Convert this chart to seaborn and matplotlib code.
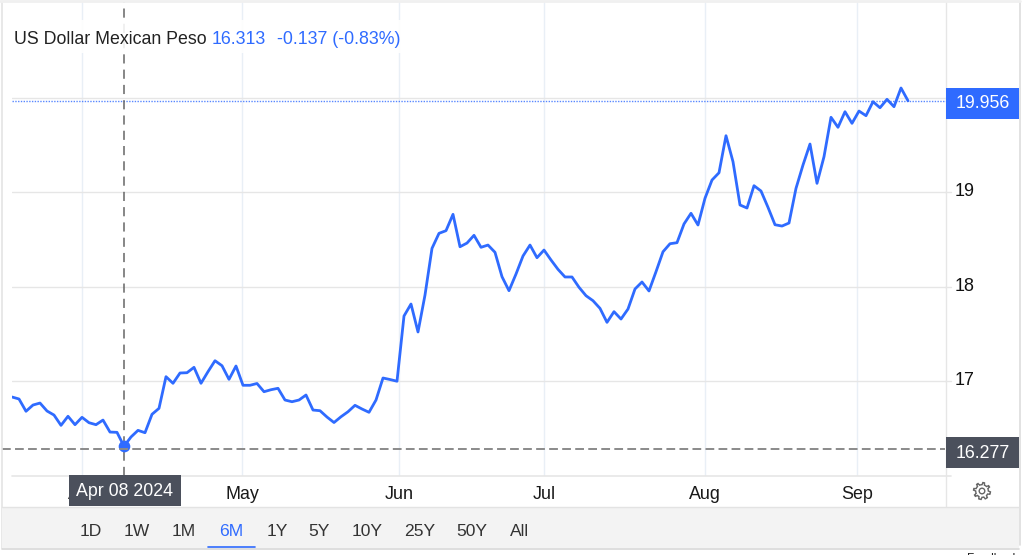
import numpy as np
import pandas as pd
import seaborn as sns
import matplotlib.pyplot as plt
from matplotlib.patches import Rectangle, Polygon, Circle
from matplotlib.transforms import ScaledTranslation

rate = [16.834, 16.813, 16.683, 16.749, 16.770, 16.686, 16.643, 16.534, 16.630, 16.541,
        16.619, 16.562, 16.541, 16.590, 16.463, 16.460, 16.313, 16.411, 16.481, 16.456,
        16.651, 16.714, 17.049, 16.979, 17.088, 17.091, 17.148, 16.979, 17.102, 17.218,
        17.165, 17.021, 17.162, 16.958, 16.958, 16.977, 16.890, 16.911, 16.926, 16.802,
        16.784, 16.802, 16.855, 16.696, 16.689, 16.622, 16.564, 16.625, 16.678, 16.746,
        16.707, 16.672, 16.802, 17.035, 17.019, 17.001, 17.691, 17.818, 17.522, 17.913,
        18.407, 18.566, 18.594, 18.767, 18.424, 18.463, 18.545, 18.418, 18.442, 18.365,
        18.107, 17.959, 18.135, 18.326, 18.442, 18.308, 18.389, 18.284, 18.185, 18.104,
        18.104, 17.995, 17.906, 17.853, 17.772, 17.624, 17.737, 17.659, 17.765, 17.977,
        18.051, 17.956, 18.160, 18.371, 18.456, 18.467, 18.665, 18.778, 18.654, 18.937,
        19.130, 19.207, 19.599, 19.324, 18.866, 18.834, 19.070, 19.014, 18.841, 18.657,
        18.643, 18.675, 19.042, 19.289, 19.511, 19.095, 19.377, 19.794, 19.688, 19.853,
        19.730, 19.860, 19.811, 19.959, 19.895, 19.984, 19.906, 20.104, 19.969]
month_labels = ['Apr', 'May', 'Jun', 'Jul', 'Aug', 'Sep']
month_pos = [10, 32.86, 55.29, 76, 99, 120.71]
y_ticks = [17, 18, 19, 20]
y_labels = ['17', '18', '19', '']
ranges = ['1D', '1W', '1M', '6M', '1Y', '5Y', '10Y', '25Y', '50Y', 'All']
range_x = [91, 137, 184, 231, 277, 319, 367, 420, 472, 520]
hover_idx = 16
hover_price = 16.277

BLUE = '#2f6bff'
DARK = '#4b505c'

sns.set_theme(style='white')
plt.rcParams['font.family'] = ['Liberation Sans', 'DejaVu Sans']

df = pd.DataFrame({'idx': np.arange(len(rate)), 'rate': rate})

W, H = 1023, 555
fig = plt.figure(figsize=(W / 100, H / 100), dpi=100, facecolor='white')

# main axes, placed by pixel box (12..945 wide, 2..476 high)
ax = fig.add_axes([12 / W, 1 - 476 / H, (945.5 - 12) / W, (476 - 2) / H])
sns.lineplot(data=df, x='idx', y='rate', ax=ax, color=BLUE, lw=2.0, zorder=4, errorbar=None)
ax.set_xlim(0, (945.5 - 12) / 7)
ax.set_ylim(15.998, 21.014)
ax.set_xlabel('')
ax.set_ylabel('')
for s in ax.spines.values():
    s.set_visible(False)
ax.set_xticks(month_pos)
ax.set_xticklabels(month_labels, fontsize=12.9, color='#1a1a1a')
ax.tick_params(axis='x', length=0, pad=7.5)
ax.yaxis.tick_right()
ax.set_yticks(y_ticks)
ax.set_yticklabels(y_labels, fontsize=12.9, color='#111111')
ax.tick_params(axis='y', length=0, pad=6.5)
for lab in ax.get_yticklabels():
    lab.set_transform(lab.get_transform() + ScaledTranslation(0, 2 / 72, fig.dpi_scale_trans))
ax.grid(axis='y', color='#e6e6e6', lw=1)
ax.grid(axis='x', color='#e9eff6', lw=1)
ax.set_axisbelow(True)

ax.axhline(rate[-1], color=BLUE, lw=1, ls=(0, (1, 1)), alpha=0.8, zorder=3)
ax.axvline(hover_idx, color='#666666', lw=1.1, ls=(0, (6, 4)), zorder=3)
ax.plot(hover_idx, rate[hover_idx], 'o', color=BLUE, ms=8.4, mew=0, zorder=5)

# overlay in pixel coordinates for the boxes and range selector
ov = fig.add_axes([0, 0, 1, 1], facecolor='none')
ov.set_xlim(0, W)
ov.set_ylim(H, 0)
ov.axis('off')

ov.plot([2, 945], [449, 449], color='#8a8a8a', lw=1.4, ls=(0, (4.5, 2.2)), zorder=1)
ov.plot([12, 951], [476, 476], color='#e6e6e6', lw=1.2, zorder=1)
ov.plot([945.5, 945.5], [2, 507], color='#e6e6e6', lw=1, zorder=1)
for yy in [97.8, 192.3, 286.8, 381.3]:
    ov.plot([945, 951], [yy, yy], color='#e6e6e6', lw=1, zorder=1)

# frame
ov.plot([1.5, 1.5], [2, 548], color='#e4e4e4', lw=1.2, zorder=1)
ov.plot([1019.5, 1019.5], [2, 545], color='#dddddd', lw=1.2, zorder=1)
ov.plot([0, 1020], [1, 1], color='#f0f0f0', lw=2, zorder=1)

# title, white backing breaks the grid lines behind it
ov.add_patch(Rectangle((12, 20), 394, 33, fc='white', ec='none', alpha=0.88, zorder=2))
ov.text(14, 39.5, 'US Dollar Mexican Peso', fontsize=12.8, color='#222222', va='center', zorder=6)
ov.text(212, 39.5, '16.313', fontsize=12.8, color=BLUE, va='center', zorder=6)
ov.text(277, 39.5, '-0.137 (-0.83%)', fontsize=12.8, color=BLUE, va='center', zorder=6)

# price boxes
ov.add_patch(Rectangle((946, 88), 73, 31, fc=BLUE, ec='none', zorder=6))
ov.text(982.5, 104, '19.956', fontsize=12.8, color='white', ha='center', va='center', zorder=7)
ov.add_patch(Rectangle((946, 437), 73, 31, fc=DARK, ec='none', zorder=6))
ov.text(982.5, 453, f'{hover_price:.3f}', fontsize=12.8, color='white', ha='center', va='center', zorder=7)

# range selector band
ov.add_patch(Rectangle((2, 507), 1017, 41, fc='#f3f3f3', ec='none', zorder=2))
ov.plot([2, 1019], [506.7, 506.7], color='#e3e3e3', lw=1, zorder=3)
ov.plot([2, 1019], [548.5, 548.5], color='#d8d8d8', lw=1.2, zorder=3)
for lab, xx in zip(ranges, range_x):
    c = BLUE if lab == '6M' else '#333333'
    ov.text(xx, 531, lab, fontsize=12.6, color=c, ha='center', va='center', zorder=6)
ov.plot([208, 255], [547.3, 547.3], color=BLUE, lw=1.2, zorder=6)

# hover date
ov.add_patch(Rectangle((69, 475), 112, 31, fc=DARK, ec='none', zorder=6))
ov.text(125, 491, 'Apr 08 2024', fontsize=12.8, color='white', ha='center', va='center', zorder=7)

# settings gear
ang = np.linspace(0, 2 * np.pi, 65)[:-1]
rad = 8.5 - 2.2 * (np.cos(8 * ang) < 0)
gear = np.column_stack([982 + rad * np.cos(ang + 0.2), 491 + rad * np.sin(ang + 0.2)])
ov.add_patch(Polygon(gear, closed=True, fc='none', ec='#666666', lw=1, zorder=6))
ov.add_patch(Circle((982, 491), 2.8, fc='none', ec='#666666', lw=1, zorder=6))

ov.text(1018, 552.5, 'Feedback', fontsize=8.5, color='#222222', ha='right', va='top', clip_on=False, zorder=6)

fig.savefig('out.png', dpi=100)
plt.close(fig)
